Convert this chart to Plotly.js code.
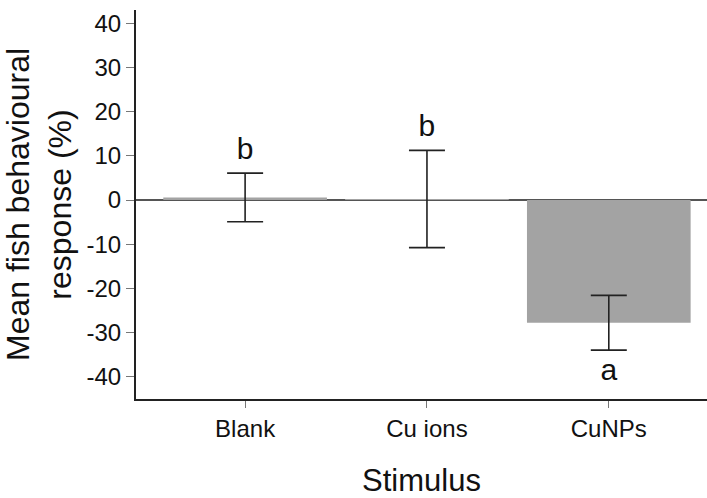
<!DOCTYPE html>
<html>
<head>
<meta charset="utf-8">
<script src="https://cdn.plot.ly/plotly-3.0.1.min.js"></script>
<style>html,body{margin:0;padding:0;background:#fff;}#chart{width:707px;height:498px;}</style>
</head>
<body>
<div id="chart"></div>
<script>
const categories = ['Blank', 'Cu ions', 'CuNPs'];
const means = [0.6, 0.25, -27.75];
const errors = [5.5, 11.0, 6.2];
const letters = ['b', 'b', 'a'];
const letterOffset = 5;
const yTickVals = [-40, -30, -20, -10, 0, 10, 20, 30, 40];
const yTickText = ['-40', '-30', '-20', '-10', '0', '10', '20', '30', '40'];

const letterY = means.map((m, i) => m >= 0 ? m + errors[i] + letterOffset : m - errors[i] - letterOffset);

const font = '"Liberation Sans", Arial, sans-serif';

const traces = [
  {
    type: 'bar',
    x: [0, 1, 2],
    y: means,
    width: 0.9,
    marker: {color: '#a3a3a3', line: {width: 0}},
    error_y: {type: 'data', array: errors, visible: true, color: '#222', thickness: 1.6, width: 18},
    hoverinfo: 'none'
  },
  {
    type: 'scatter',
    mode: 'text',
    x: [0, 1, 2],
    y: letterY,
    text: letters,
    textfont: {family: font, size: 30, color: '#111'},
    textposition: 'middle center',
    hoverinfo: 'none'
  }
];

const layout = {
  width: 707,
  height: 498,
  margin: {l: 136, r: 0, t: 10, b: 99},
  paper_bgcolor: '#fff',
  plot_bgcolor: '#fff',
  showlegend: false,
  font: {family: font, color: '#111'},
  xaxis: {
    range: [-0.6, 2.54],
    tickmode: 'array',
    tickvals: [0, 1, 2],
    ticktext: categories,
    ticks: 'outside',
    ticklen: 7,
    tickcolor: '#777',
    tickwidth: 1,
    tickfont: {size: 24, family: font, color: '#111'},
    showline: true,
    linecolor: '#222',
    linewidth: 2,
    showgrid: false,
    zeroline: false,
    title: {text: 'Stimulus', font: {size: 31, family: font, color: '#111'}, standoff: 31}
  },
  yaxis: {
    range: [-45, 43],
    tickmode: 'array',
    tickvals: yTickVals,
    ticktext: yTickText,
    ticks: 'outside',
    ticklen: 8,
    tickcolor: '#777',
    tickwidth: 1,
    tickfont: {size: 24, family: font, color: '#111'},
    showline: true,
    linecolor: '#222',
    linewidth: 2,
    showgrid: false,
    zeroline: true,
    zerolinecolor: '#555',
    zerolinewidth: 1.2,
    title: {text: 'Mean fish behavioural<br>response (%)', font: {size: 32, family: font, color: '#111'}, standoff: 8}
  }
};

Plotly.newPlot('chart', traces, layout, {displayModeBar: false, staticPlot: true});
</script>
</body>
</html>
